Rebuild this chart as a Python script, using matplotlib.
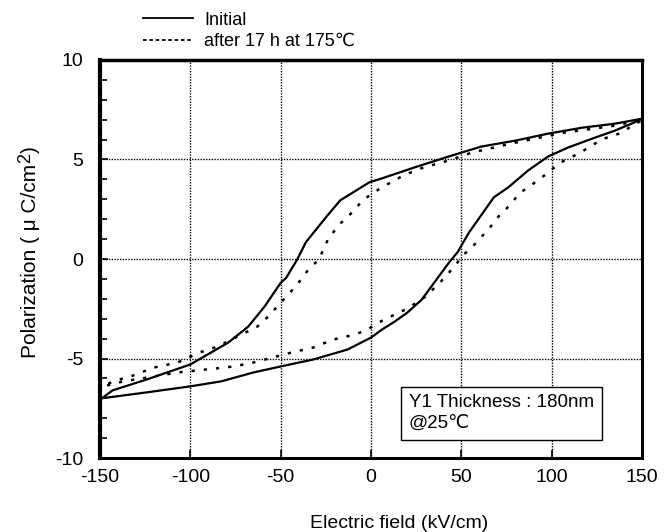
import matplotlib
matplotlib.use("Agg")
import matplotlib.pyplot as plt
from matplotlib.lines import Line2D
from matplotlib.ticker import MultipleLocator

plt.rcParams['font.family'] = ['Liberation Sans', 'DejaVu Sans']
plt.rcParams['axes.unicode_minus'] = False

# Initial loop (solid): descending branch then ascending branch
init_E = [150, 135, 117, 98, 80, 61, 43, 24, 6, -1, -17, -24, -36, -41, -47, -50, -59, -68, -79,
          -100, -124, -143, -149,
          -124, -100, -83, -65, -50, -32, -13, 0, 6, 13, 20, 28, 43, 48, 54, 61, 68, 76, 87, 98,
          109, 124, 135, 148, 150]
init_P = [7.05, 6.8, 6.6, 6.3, 5.95, 5.65, 5.15, 4.6, 4.05, 3.85, 2.95, 2.2, 0.85, -0.05, -0.95, -1.2, -2.4, -3.4, -4.2,
          -5.3, -6.05, -6.6, -7.0,
          -6.7, -6.4, -6.15, -5.7, -5.4, -5.05, -4.55, -3.95, -3.55, -3.15, -2.7, -2.05, -0.2, 0.35, 1.3, 2.2, 3.1, 3.6, 4.45, 5.15,
          5.6, 6.1, 6.45, 6.95, 7.05]

# After 17 h at 175 C (dashed)
aged_E = [148, 135, 107, 80, 56, 43, 29, 18, 6, -4, -12, -18, -24, -29, -34, -41, -50, -57, -63, -85,
          -95, -107, -120, -133, -143, -148,
          -137, -120, -107, -91, -76, -65, -44, -32, -21, -9, -2, 4, 13, 20, 30, 38, 46, 51, 56, 61, 66,
          72, 77, 82, 87, 96, 105, 116, 122, 129, 139, 146, 150]
aged_P = [6.95, 6.7, 6.35, 5.85, 5.35, 4.95, 4.6, 4.2, 3.6, 3.0, 2.2, 1.7, 0.95, -0.05, -0.45, -1.3, -2.2, -2.9, -3.4, -4.4,
          -4.7, -5.2, -5.45, -5.9, -6.15, -6.4,
          -6.15, -5.9, -5.7, -5.55, -5.4, -5.2, -4.7, -4.45, -4.05, -3.8, -3.55, -3.2, -2.8, -2.5, -1.9, -1.2, -0.4, 0.2, 0.6, 1.1, 1.6,
          2.3, 2.7, 3.3, 3.6, 4.2, 4.85, 5.35, 5.7, 6.05, 6.35, 6.8, 6.95]

x_ticks = [-150, -100, -50, 0, 50, 100, 150]
y_ticks = [-10, -5, 0, 5, 10]
labels = ["Initial", "after 17 h at 175\u2103"]

W, H = 664, 532
fig = plt.figure(figsize=(6.64, 5.32), dpi=100)
ax = fig.add_axes([100 / W, (H - 458) / H, 542 / W, 398 / H])

ax.plot(init_E, init_P, color='black', lw=1.6, ls='-')
ax.plot(aged_E, aged_P, color='black', lw=1.8, ls=(0, (1.3, 3.6)))

ax.set_xlim(-150, 150)
ax.set_ylim(-10, 10)
ax.set_xticks(x_ticks)
ax.set_yticks(y_ticks)
ax.yaxis.set_minor_locator(MultipleLocator(1))
ax.tick_params(which='both', direction='in', labelsize=14, top=False, right=False)
ax.tick_params(which='major', length=6, width=1.2)
ax.tick_params(which='minor', length=5, width=1.2)
ax.tick_params(axis='x', pad=8)
ax.tick_params(axis='y', pad=12)

# grid at interior positions only
for xv in x_ticks[1:-1]:
    ax.axvline(xv, color='black', lw=1.0, ls=(0, (1, 1)), zorder=0)
for yv in y_ticks[1:-1]:
    ax.axhline(yv, color='black', lw=1.0, ls=(0, (1, 1)), zorder=0)

ax.spines['left'].set_linewidth(3)
ax.spines['bottom'].set_linewidth(2.2)
ax.spines['right'].set_linewidth(2.2)
ax.spines['top'].set_linewidth(2.5)

ax.set_xlabel("Electric field (kV/cm)", fontsize=14)
ax.xaxis.set_label_coords((399 - 100) / 542, -0.143)

# y label "Polarization ( μC/cm2)" built from contiguous rotated pieces
fig.canvas.draw()
r = fig.canvas.get_renderer()
pieces = [("Polarization ( \u03bc C/cm", 0, 15), ("2", 6, 13), (")", 0, 15)]
texts = []
for txt, raise_px, fs in pieces:
    t = fig.text(0, 0, txt, rotation=90, rotation_mode='anchor',
                 ha='left', va='baseline', fontsize=fs)
    texts.append((t, raise_px))
lengths = [t.get_window_extent(r).height for t, _ in texts]
total = sum(lengths) + 1
start = (H - 252) - total / 2  # bottom start in pixels from figure bottom
base_x = 36
pos = start
for (t, raise_px), L in zip(texts, lengths):
    t.set_position(((base_x - raise_px) / W, pos / H))
    pos += L + 0.5

ax.text(21, -8.7, "Y1 Thickness : 180nm\n@25\u2103",
        fontsize=13.5, ha='left', va='bottom', linespacing=1.3,
        bbox=dict(boxstyle='square,pad=0.4', fc='white', ec='black', lw=1.0))

handles = [Line2D([], [], color='black', lw=1.3, ls='-'),
           Line2D([], [], color='black', lw=1.3, ls=(0, (2, 1.5)))]
fig.legend(handles, labels, loc='upper left', bbox_to_anchor=(131 / W, 1 - 0 / H),
           frameon=False, fontsize=13, handlelength=2.8, handletextpad=0.6,
           labelspacing=0.25, borderpad=0.15)

fig.savefig("out.png", dpi=100)
